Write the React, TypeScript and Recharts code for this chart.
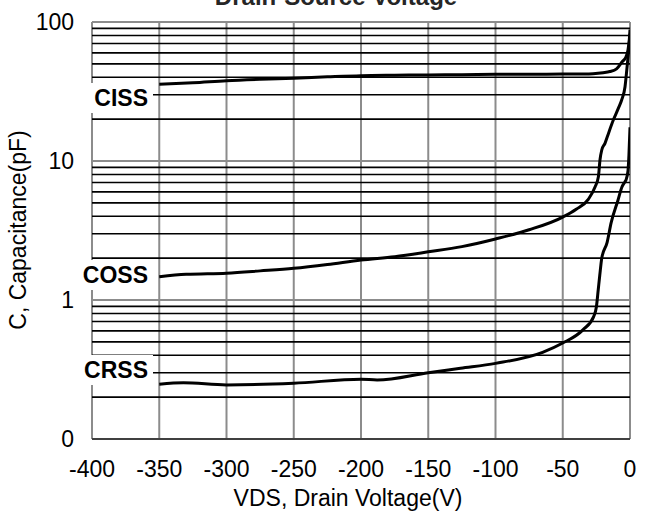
import React from "react"
import { LineChart, Line, XAxis, YAxis, CartesianGrid, ReferenceLine } from "recharts"

// x positions (V) and capacitance values (pF)
const cissV = [-350, -325, -300, -275, -250, -225, -200, -175, -150, -125, -100, -75, -50, -35, -27.5, -20, -15, -10, -5.8, -3, -1.5, -0.5, 0]
const cissC = [35.6, 36.5, 37.8, 38.7, 39.4, 40.3, 41.1, 41.4, 41.6, 41.8, 42, 42.1, 42.2, 42.3, 42.5, 43.2, 44, 46, 51.8, 56, 63, 75, 88]

const cossV = [-350, -330, -300, -275, -250, -225, -200, -175, -150, -125, -100, -75, -50, -40, -31, -26, -23.5, -22.3, -21, -18.6, -16, -12.4, -8.7, -6.2, -3.7, -2.4, -1.2, 0]
const cossC = [1.47, 1.53, 1.56, 1.62, 1.69, 1.8, 1.94, 2.05, 2.22, 2.42, 2.75, 3.2, 3.95, 4.5, 5.3, 6.5, 7.7, 10.2, 12, 13.4, 15.8, 19.7, 23.9, 27.5, 34.2, 45, 59.5, 82]

const crssV = [-350, -332, -300, -250, -200, -188, -150, -126, -100, -65, -50, -35, -27, -25, -23.6, -22.5, -21, -17, -14, -9, -6, -3.7, -3, -1.5, -0.8, 0]
const crssC = [0.248, 0.254, 0.245, 0.252, 0.269, 0.266, 0.3, 0.323, 0.35, 0.42, 0.49, 0.61, 0.76, 0.89, 1.19, 1.5, 2.0, 2.6, 3.6, 5.2, 6.5, 7.1, 7.3, 8.5, 11, 17.5]

const xTicks = [-400, -350, -300, -250, -200, -150, -100, -50, 0]
const yTicks = [0.1, 1, 10, 100]
const minorY = [0.2, 0.3, 0.4, 0.5, 0.6, 0.7, 0.8, 0.9, 2, 3, 4, 5, 6, 7, 8, 9, 20, 30, 40, 50, 60, 70, 80, 90]

const ciss = cissV.map((v, i) => ({ v, c: cissC[i] }))
const coss = cossV.map((v, i) => ({ v, c: cossC[i] }))
const crss = crssV.map((v, i) => ({ v, c: crssC[i] }))

const font = "'Liberation Sans', Arial, sans-serif"

const tagStyle: React.CSSProperties = {
  position: "absolute",
  left: 76,
  width: 72,
  paddingRight: 5,
  height: 30,
  background: "#fff",
  textAlign: "right",
  fontFamily: font,
  fontWeight: "bold",
  fontSize: 23,
  lineHeight: "30px",
  color: "#000",
}

export default function App() {
  return (
    <div style={{ position: "absolute", left: 0, top: 0, width: 645, height: 517, background: "#fff", overflow: "hidden" }}>
      <LineChart width={645} height={517} margin={{ top: 22, right: 15, bottom: 48, left: 0 }}>
        <CartesianGrid stroke="#8c8c8c" strokeWidth={2} />
        {minorY.map(v => (
          <ReferenceLine key={v} y={v} stroke="#000" strokeWidth={1.6} />
        ))}
        <XAxis
          type="number"
          dataKey="v"
          domain={[-400, 0]}
          ticks={xTicks}
          allowDataOverflow
          height={30}
          tickSize={0}
          tickMargin={22}
          axisLine={{ stroke: "#404040", strokeWidth: 2 }}
          tick={{ fill: "#000", fontSize: 23, fontFamily: font }}
        />
        <YAxis
          type="number"
          scale="log"
          domain={[0.1, 100]}
          ticks={yTicks}
          allowDataOverflow
          width={92}
          tickSize={0}
          tickMargin={18}
          axisLine={false}
          tickFormatter={v => (v < 1 ? "0" : String(v))}
          tick={{ fill: "#000", fontSize: 23, fontFamily: font }}
        />
        <Line data={ciss} dataKey="c" type="monotone" stroke="#000" strokeWidth={3} dot={false} isAnimationActive={false} />
        <Line data={coss} dataKey="c" type="monotone" stroke="#000" strokeWidth={3} dot={false} isAnimationActive={false} />
        <Line data={crss} dataKey="c" type="monotone" stroke="#000" strokeWidth={3} dot={false} isAnimationActive={false} />
      </LineChart>

      <div style={{ ...tagStyle, top: 83 }}>CISS</div>
      <div style={{ ...tagStyle, top: 260 }}>COSS</div>
      <div style={{ ...tagStyle, top: 355 }}>CRSS</div>

      <div
        style={{
          position: "absolute",
          left: 336,
          top: -15,
          transform: "translateX(-50%)",
          whiteSpace: "nowrap",
          fontFamily: font,
          fontWeight: "bold",
          fontSize: 24,
          lineHeight: "24px",
          color: "#262626",
        }}
      >
        Drain-Source Voltage
      </div>
      <div
        style={{
          position: "absolute",
          left: 348,
          top: 486,
          transform: "translateX(-50%)",
          whiteSpace: "nowrap",
          fontFamily: font,
          fontSize: 23,
          lineHeight: "24px",
          color: "#000",
        }}
      >
        VDS, Drain Voltage(V)
      </div>
      <div
        style={{
          position: "absolute",
          left: 18,
          top: 230,
          transform: "translate(-50%, -50%) rotate(-90deg)",
          whiteSpace: "nowrap",
          fontFamily: font,
          fontSize: 23,
          lineHeight: "24px",
          color: "#000",
        }}
      >
        C, Capacitance(pF)
      </div>
    </div>
  )
}
